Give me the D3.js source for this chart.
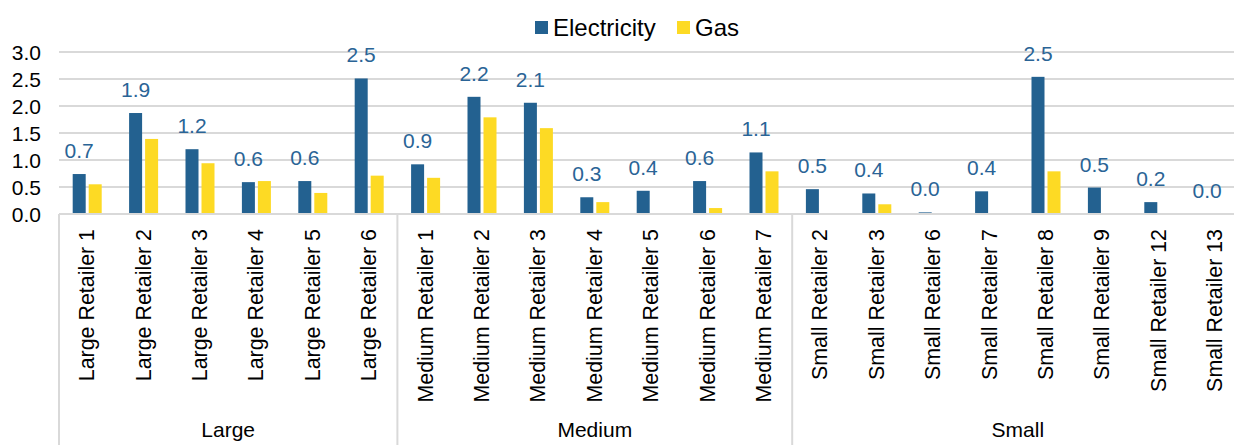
<!DOCTYPE html>
<html>
<head>
<meta charset="utf-8">
<script src="https://cdn.jsdelivr.net/npm/d3@7"></script>
<style>
  body { margin: 0; background: #fff; }
  text { font-family: "Liberation Sans", Arial, sans-serif; }
</style>
</head>
<body>
<div id="chart"></div>
<script>
// retailers, grouped by size
var retailers = ["Large Retailer 1", "Large Retailer 2", "Large Retailer 3", "Large Retailer 4", "Large Retailer 5", "Large Retailer 6",
	"Medium Retailer 1", "Medium Retailer 2", "Medium Retailer 3", "Medium Retailer 4", "Medium Retailer 5", "Medium Retailer 6", "Medium Retailer 7",
	"Small Retailer 2", "Small Retailer 3", "Small Retailer 6", "Small Retailer 7", "Small Retailer 8", "Small Retailer 9", "Small Retailer 12", "Small Retailer 13"];
var groupNames = ["Large", "Medium", "Small"];
var groupSizes = [6, 7, 8];
var electricity = [0.74, 1.87, 1.20, 0.59, 0.61, 2.51, 0.92, 2.17, 2.06, 0.31, 0.43, 0.61, 1.14, 0.46, 0.38, 0.03, 0.42, 2.54, 0.49, 0.22, 0.0];
var gas = [0.55, 1.39, 0.94, 0.61, 0.39, 0.71, 0.67, 1.79, 1.59, 0.22, 0, 0.11, 0.79, 0, 0.18, 0, 0, 0.79, 0, 0, 0];
var yTicks = [0, 0.5, 1, 1.5, 2, 2.5, 3];
var seriesNames = ["Electricity", "Gas"];

var blue = "#236190", yellow = "#FDDA24", grid = "#D9D9D9";
var W = 1234, H = 445;
var plotL = 59, plotR = 1243.4, plotT = 52, plotB = 214;

var svg = d3.select("#chart").append("svg")
	.attr("width", W).attr("height", H);

var x = d3.scaleBand().domain(retailers).range([plotL, plotR]);
var y = d3.scaleLinear().domain([0, 3]).range([plotB, plotT]);

// gridlines
svg.selectAll(".grid")
	.data(yTicks)
	.enter()
	.append("line")
		.attr("class", "grid")
		.attr("x1", plotL).attr("x2", plotR)
		.attr("y1", function(d) { return y(d); })
		.attr("y2", function(d) { return y(d); })
		.style("stroke", grid)
		.style("stroke-width", 2);

// y axis labels
var yAxis = d3.axisLeft(y).tickValues(yTicks).tickFormat(d3.format(".1f")).tickSize(0).tickPadding(18);
svg.append("g")
	.attr("transform", "translate(" + plotL + ",0)")
	.call(yAxis)
	.call(function(g) { g.select(".domain").remove(); })
	.selectAll("text")
		.attr("dy", "0.36em")
		.style("font-size", "21px")
		.style("fill", "#000")
		.style("font-family", "'Liberation Sans', Arial, sans-serif");

// bars
var barW = 13;
svg.selectAll(".elec")
	.data(retailers)
	.enter()
	.append("rect")
		.attr("class", "elec")
		.attr("x", function(d) { return x(d) + x.bandwidth() / 2 - 1.5 - barW; })
		.attr("y", function(d, i) { return y(electricity[i]); })
		.attr("width", barW)
		.attr("height", function(d, i) { return plotB - y(electricity[i]); })
		.style("fill", blue);

svg.selectAll(".gas")
	.data(retailers)
	.enter()
	.append("rect")
		.attr("class", "gas")
		.attr("x", function(d) { return x(d) + x.bandwidth() / 2 + 1.5; })
		.attr("y", function(d, i) { return y(gas[i]); })
		.attr("width", barW)
		.attr("height", function(d, i) { return plotB - y(gas[i]); })
		.style("fill", yellow);

// data labels on electricity
svg.selectAll(".lbl")
	.data(retailers)
	.enter()
	.append("text")
		.attr("class", "lbl")
		.attr("x", function(d) { return x(d) + x.bandwidth() / 2 - 8; })
		.attr("y", function(d, i) { return y(electricity[i]) - 16; })
		.attr("text-anchor", "middle")
		.style("font-size", "21px")
		.style("fill", "#2A6496")
		.text(function(d, i) { return d3.format(".1f")(electricity[i]); });

// x axis base line
svg.append("line")
	.attr("x1", plotL).attr("x2", plotR)
	.attr("y1", plotB).attr("y2", plotB)
	.style("stroke", grid).style("stroke-width", 2);

// category labels, rotated
svg.selectAll(".cat")
	.data(retailers)
	.enter()
	.append("text")
		.attr("class", "cat")
		.attr("transform", function(d) { return "translate(" + (x(d) + x.bandwidth() / 2 + 7) + ",229) rotate(-90)"; })
		.attr("text-anchor", "end")
		.style("font-size", "21.4px")
		.style("fill", "#000")
		.text(function(d) { return d; });

// group separators + group labels
var start = 0, bounds = [];
groupSizes.forEach(function(n) { bounds.push([start, start + n]); start += n; });

bounds.forEach(function(b, i) {
	var x0 = x(retailers[b[0]]);
	var x1 = b[1] < retailers.length ? x(retailers[b[1]]) : plotR;
	svg.append("line")
		.attr("x1", x0).attr("x2", x0)
		.attr("y1", plotB).attr("y2", H)
		.style("stroke", grid).style("stroke-width", 2);
	svg.append("text")
		.attr("x", (x0 + x1) / 2)
		.attr("y", 437)
		.attr("text-anchor", "middle")
		.style("font-size", "21px")
		.style("fill", "#000")
		.text(groupNames[i]);
});

// legend
var legend = svg.append("g");
var legX = [535, 677];
seriesNames.forEach(function(s, i) {
	legend.append("rect")
		.attr("x", legX[i]).attr("y", 21)
		.attr("width", 13).attr("height", 13)
		.style("fill", i == 0 ? blue : yellow);
	legend.append("text")
		.attr("x", legX[i] + 18).attr("y", 35.5)
		.style("font-size", "24px")
		.style("fill", "#000")
		.text(s);
});
</script>
</body>
</html>
